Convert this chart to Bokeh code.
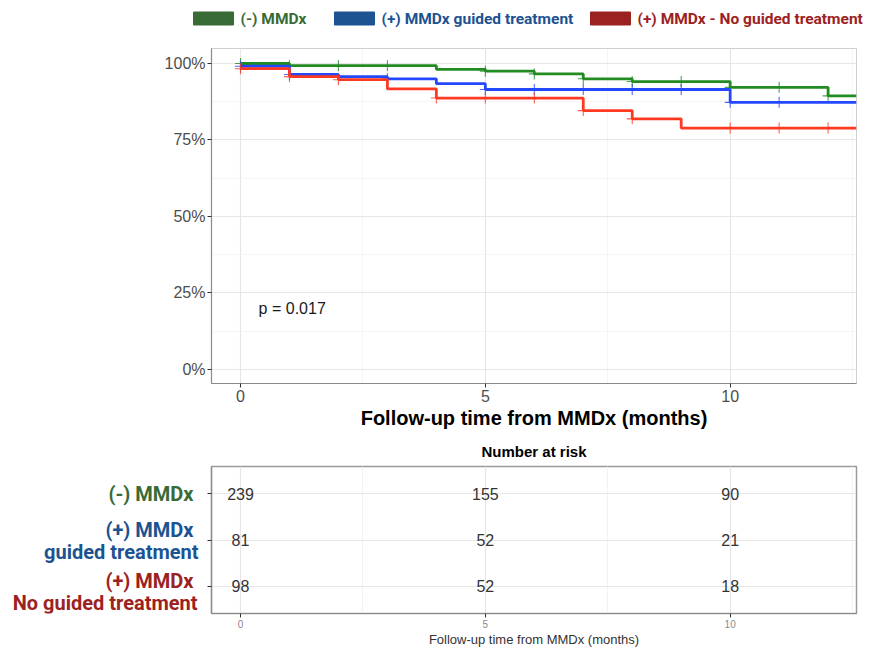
from bokeh.plotting import figure
from bokeh.models import (FixedTicker, NumeralTickFormatter, Label, Range1d,
                          ColumnDataSource)
from bokeh.layouts import column, row
from bokeh.embed import file_html
from bokeh.resources import INLINE
from bokeh.core.properties import value

# ---------------- data ----------------
group_labels = ["(-) MMDx", "(+) MMDx guided treatment", "(+) MMDx - No guided treatment"]
line_colors = ["#228B22", "#2348FF", "#FF3A22"]
legend_colors = ["#386B35", "#1D5391", "#9C2222"]

# Kaplan-Meier step curves (time in months, survival fraction)
neg_time = [0, 1, 4, 5, 6, 7, 8, 10, 12, 12.58]
neg_surv = [1.000, 0.993, 0.981, 0.975, 0.966, 0.950, 0.941, 0.922, 0.894, 0.894]

guided_time = [0, 1, 2, 3, 4, 5, 10, 12.58]
guided_surv = [0.991, 0.964, 0.957, 0.950, 0.934, 0.915, 0.873, 0.873]

noguided_time = [0, 1, 2, 3, 4, 7, 8, 9, 12.58]
noguided_surv = [0.983, 0.957, 0.947, 0.917, 0.887, 0.846, 0.819, 0.789, 0.789]

# censoring marks (months)
neg_censor = [0, 1, 2, 3, 5, 6, 7, 8, 9, 10, 11, 12]
guided_censor = [0, 1, 3, 5, 6, 7, 8, 9, 10, 11]
noguided_censor = [0, 1, 2, 4, 5, 6, 7, 8, 10, 11, 12]

p_value_text = "p = 0.017"
p_value_x, p_value_y = 0.37, 0.20

# number at risk table
risk_times = [0, 5, 10]
neg_risk = [239, 155, 90]
guided_risk = [81, 52, 21]
noguided_risk = [98, 52, 18]
risk_rows = [3, 2, 1]
risk_row_labels = [["(-) MMDx"], ["(+) MMDx", "guided treatment"],
                   ["(+) MMDx", "No guided treatment"]]

x_ticks = [0, 5, 10]
x_minor = [2.5, 7.5, 12.5]
y_ticks = [0, 0.25, 0.5, 0.75, 1.0]
y_minor = [0.125, 0.375, 0.625, 0.875]

x_lo, x_hi = -0.592, 12.58
AX_FONT = "Liberation Sans"
W = 871


def surv_at(times, surv, t):
    s = surv[0]
    for ti, si in zip(times, surv):
        if ti <= t:
            s = si
    return s


def style_axis(ax, label_size, label_color):
    ax.axis_line_color = "#8a8a8a"
    ax.axis_line_width = 1.2
    ax.major_tick_line_color = "#333333"
    ax.major_tick_out = 4
    ax.major_tick_in = 0
    ax.minor_tick_line_color = None
    ax.major_label_text_font = AX_FONT
    ax.major_label_text_font_size = label_size
    ax.major_label_text_color = label_color
    ax.major_label_standoff = 2


def blank_fig(width, height, xr, yr, **kw):
    f = figure(width=width, height=height, x_range=xr, y_range=yr,
               x_axis_type=None, y_axis_type=None, output_backend="svg",
               toolbar_location=None, **kw)
    f.outline_line_color = None
    f.xgrid.visible = False
    f.ygrid.visible = False
    return f


# ---------------- legend strip (separate root, screen-like coordinates) ----------------
LEG_H = 34
lf = blank_fig(W, LEG_H, Range1d(0, W), Range1d(0, LEG_H),
               min_border_left=0, min_border_right=0,
               min_border_top=0, min_border_bottom=0)
swatch_left = [193, 334, 590]
SW_W, SW_H, SW_GAP, LEG_Y = 40, 13, 7, 16
leg_src = ColumnDataSource(dict(
    sx=[x + SW_W / 2 for x in swatch_left],
    tx=[x + SW_W + SW_GAP for x in swatch_left],
    y=[LEG_Y] * 3,
    label=group_labels,
    color=legend_colors,
))
lf.rect(x="sx", y="y", width=SW_W, height=SW_H, source=leg_src,
        fill_color="color", line_color="color", line_width=1)
lf.text(x="tx", y="y", text="label", source=leg_src, text_color="color",
        text_align="left", text_baseline="middle", text_font=value("Roboto"),
        text_font_style="bold", text_font_size="15.5px")

# ---------------- survival plot ----------------
p = figure(width=W, height=397, x_range=Range1d(x_lo, x_hi),
           y_range=Range1d(-0.046, 1.049), output_backend="svg",
           toolbar_location=None, min_border_left=211, min_border_right=15,
           min_border_top=14, min_border_bottom=48)
p.outline_line_color = "#cfcfcf"
p.xaxis.ticker = FixedTicker(ticks=x_ticks, minor_ticks=x_minor)
p.yaxis.ticker = FixedTicker(ticks=y_ticks, minor_ticks=y_minor)
p.yaxis.formatter = NumeralTickFormatter(format="0%")
style_axis(p.xaxis[0], "16px", "#4d4d4d")
style_axis(p.yaxis[0], "16px", "#4d4d4d")
p.xaxis.axis_label = "Follow-up time from MMDx (months)"
p.xaxis.axis_label_text_font = AX_FONT
p.xaxis.axis_label_text_font_style = "bold"
p.xaxis.axis_label_text_font_size = "20px"
p.xaxis.axis_label_text_color = "#000000"
p.xaxis.axis_label_standoff = 2
for g in (p.xgrid[0], p.ygrid[0]):
    g.grid_line_color = "#e6e6e6"
    g.grid_line_width = 1.2
    g.minor_grid_line_color = "#f2f2f2"
    g.minor_grid_line_width = 0.8

series = [
    (neg_time, neg_surv, neg_censor),
    (guided_time, guided_surv, guided_censor),
    (noguided_time, noguided_surv, noguided_censor),
]
for (t, s, cens), col in zip(series, line_colors):
    src = ColumnDataSource(dict(t=t, s=s))
    p.step(x="t", y="s", source=src, mode="after", line_color=col, line_width=2.8)
    csrc = ColumnDataSource(dict(t=cens, s=[surv_at(t, s, c) for c in cens]))
    p.scatter(x="t", y="s", source=csrc, marker="cross", size=11,
              line_color=col, line_width=1.1, line_alpha=0.8)

p.add_layout(Label(x=p_value_x, y=p_value_y, text=p_value_text,
                   text_font=AX_FONT, text_font_size="16px",
                   text_color="#1a1a1a", text_baseline="middle"))

# ---------------- risk table ----------------
RISK_H = 219
LABEL_W = 199
risk_yr = Range1d(0.41, 3.59)
r = figure(width=W - LABEL_W, height=RISK_H, x_range=Range1d(x_lo, x_hi),
           y_range=risk_yr, output_backend="svg",
           toolbar_location=None, min_border_left=12, min_border_right=15,
           min_border_top=35, min_border_bottom=37, title="Number at risk")
r.title.align = "center"
r.title.text_font = AX_FONT
r.title.text_font_style = "bold"
r.title.text_font_size = "15px"
r.title.text_color = "#000000"
r.title.standoff = 13
r.outline_line_color = "#9a9a9a"
r.outline_line_width = 1.5
r.xaxis.ticker = FixedTicker(ticks=x_ticks, minor_ticks=x_minor)
r.yaxis.ticker = FixedTicker(ticks=risk_rows, minor_ticks=[])
style_axis(r.xaxis[0], "10px", "#8a8a8a")
style_axis(r.yaxis[0], "10px", "#8a8a8a")
r.yaxis.major_label_overrides = {v: "" for v in risk_rows}
r.yaxis.major_label_standoff = 0
r.xaxis.axis_label = "Follow-up time from MMDx (months)"
r.xaxis.axis_label_text_font = AX_FONT
r.xaxis.axis_label_text_font_style = "normal"
r.xaxis.axis_label_text_font_size = "13px"
r.xaxis.axis_label_text_color = "#333333"
r.xaxis.axis_label_standoff = 1
for g in (r.xgrid[0], r.ygrid[0]):
    g.grid_line_color = "#e6e6e6"
    g.grid_line_width = 1.2
    g.minor_grid_line_color = "#f2f2f2"

risk_src = ColumnDataSource(dict(
    t=risk_times * 3,
    row=[risk_rows[0]] * 3 + [risk_rows[1]] * 3 + [risk_rows[2]] * 3,
    n=[str(v) for v in neg_risk + guided_risk + noguided_risk],
))
r.text(x="t", y="row", text="n", source=risk_src, text_align="center",
       text_baseline="middle", text_font=value(AX_FONT),
       text_font_size="16px", text_color="#333333")

# row labels in their own strip to the left of the risk table
lab_fig = blank_fig(LABEL_W, RISK_H, Range1d(0, LABEL_W), risk_yr,
                    min_border_left=0, min_border_right=0,
                    min_border_top=35, min_border_bottom=37)
# (vertical offset px, right edge px) for each text line
line_layout = [[(0, 193)], [(10, 193), (-12, 198)], [(5, 193), (-17, 197)]]
lab_x, lab_y, lab_txt, lab_col, lab_off = [], [], [], [], []
for i, (rw, lines) in enumerate(zip(risk_rows, risk_row_labels)):
    for ln, (off, xr) in zip(lines, line_layout[i]):
        lab_x.append(xr)
        lab_y.append(rw)
        lab_txt.append(ln)
        lab_col.append(legend_colors[i])
        lab_off.append(-off)
lab_src = ColumnDataSource(dict(x=lab_x, y=lab_y, txt=lab_txt, col=lab_col, off=lab_off))
lab_fig.text(x="x", y="y", text="txt", source=lab_src, y_offset="off",
             text_color="col", text_align="right", text_baseline="middle",
             text_font=value("Roboto"), text_font_style="bold",
             text_font_size="20px")

layout = column(p, row(lab_fig, r, spacing=0), spacing=0)
open("out.html", "w").write(file_html([lf, layout], INLINE))
